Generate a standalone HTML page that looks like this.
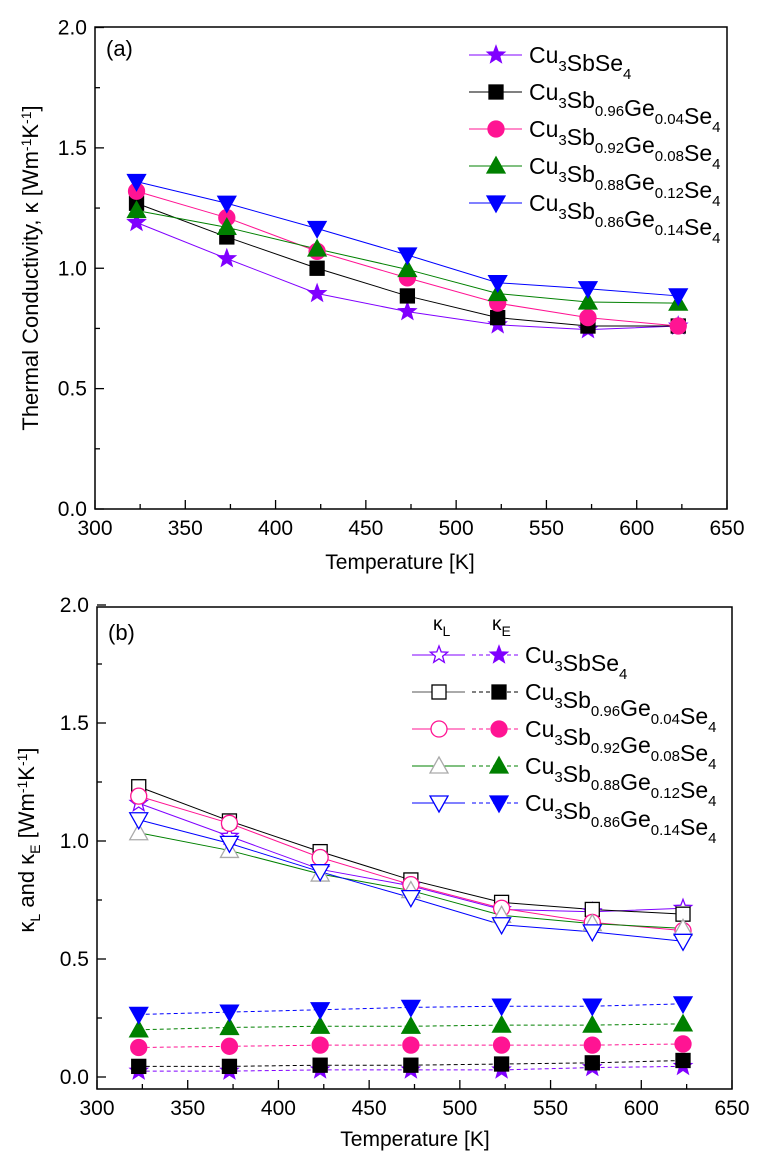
<!DOCTYPE html>
<html><head><meta charset="utf-8"><style>body{margin:0;background:#fff}svg{display:block}text{font-family:"Liberation Sans",sans-serif}</style></head>
<body>
<svg id="s" width="759" height="1163" xmlns="http://www.w3.org/2000/svg"></svg>
<script>
const S=document.getElementById('s');let h='';
const C=['#8000ff','#000','#ff1493','#008000','#0000ff'];
const T=[323,373,423,473,523,573,623];
function star(x,y,r,f,c){let p='';for(let i=0;i<10;i++){const a=-Math.PI/2+i*Math.PI/5,rr=i%2?r*0.42:r;p+=(i?'L':'M')+(x+rr*Math.cos(a)).toFixed(1)+' '+(y+rr*Math.sin(a)).toFixed(1);}return `<path d="${p}Z" fill="${f}" stroke="${c}" stroke-width="1.3"/>`;}
function mk(t,x,y,open,c){const f=open?'#fff':c,st=c;const r=8;
 if(t==0)return star(x,y,9,f,st);
 if(t==1)return `<rect x="${x-7}" y="${y-7}" width="14" height="14" fill="${f}" stroke="${st}" stroke-width="1.3"/>`;
 if(t==2)return `<circle cx="${x}" cy="${y}" r="${r}" fill="${f}" stroke="${st}" stroke-width="1.3"/>`;
 if(t==3)return `<path d="M${x} ${y-9}L${x+9} ${y+7}L${x-9} ${y+7}Z" fill="${f}" stroke="${open?'#aaa':st}" stroke-width="1.3"/>`;
 return `<path d="M${x} ${y+9}L${x+9} ${y-7}L${x-9} ${y-7}Z" fill="${f}" stroke="${st}" stroke-width="1.3"/>`;}
function axes(L,R,Top,B,y0,sc){
 h+=`<rect x="${L}" y="${Top}" width="${R-L}" height="${B-Top}" fill="none" stroke="#000" stroke-width="1.5"/>`;
 const xs=(R-L)/350;
 for(let t=300;t<=650;t+=25){const x=L+(t-300)*xs;const len=t%50?5:9;h+=`<line x1="${x}" y1="${B}" x2="${x}" y2="${B-len}" stroke="#000" stroke-width="1.3"/>`;if(t%50==0)h+=`<text x="${x}" y="${B+26}" font-size="21" text-anchor="middle">${t}</text>`;}
 for(let v=0;v<=2.001;v+=0.25){const y=y0-v*sc;const len=(Math.round(v*4)%2)?5:9;h+=`<line x1="${L}" y1="${y}" x2="${L+len}" y2="${y}" stroke="#000" stroke-width="1.3"/>`;if(!(Math.round(v*4)%2))h+=`<text x="${L-8}" y="${y+7}" font-size="21" text-anchor="end">${v.toFixed(1)}</text>`;}
 return t=>L+(t-300)*xs;}
let X=axes(95,727,27,509,509,240.75);let Y=v=>509-v*240.75;
const A=[[1.19,1.04,0.895,0.82,0.765,0.745,0.76],[1.27,1.13,1.0,0.885,0.795,0.76,0.76],[1.32,1.21,1.07,0.96,0.855,0.795,0.76],[1.24,1.17,1.08,0.995,0.895,0.86,0.855],[1.36,1.27,1.165,1.055,0.94,0.915,0.885]];
A.forEach((d,i)=>{h+=`<polyline fill="none" stroke="${C[i]}" stroke-width="1" points="${d.map((v,j)=>X(T[j])+','+Y(v)).join(' ')}"/>`;});
A.forEach((d,i)=>d.forEach((v,j)=>h+=mk(i,X(T[j]),Y(v),false,C[i])));
h+=`<text x="106" y="56" font-size="22">(a)</text>`;
h+=`<text x="400" y="569" font-size="21" text-anchor="middle">Temperature [K]</text>`;
h+=`<text transform="translate(38,268) rotate(-90)" font-size="22" text-anchor="middle">Thermal Conductivity, κ [Wm<tspan dy="-7" font-size="14">-1</tspan><tspan dy="7">K</tspan><tspan dy="-7" font-size="14">-1</tspan><tspan dy="7">]</tspan></text>`;
const names=[['Cu','3','SbSe','4'],['Cu','3','Sb','0.96','Ge','0.04','Se','4'],['Cu','3','Sb','0.92','Ge','0.08','Se','4'],['Cu','3','Sb','0.88','Ge','0.12','Se','4'],['Cu','3','Sb','0.86','Ge','0.14','Se','4']];
function nm(x,y,n){let s=`<text x="${x}" y="${y+8}" font-size="23">`;n.forEach((p,k)=>{s+=k%2?`<tspan dy="8" font-size="15">${p}</tspan><tspan dy="-8"></tspan>`:`<tspan>${p}</tspan>`;});return s+'</text>';}
for(let i=0;i<5;i++){const y=55+i*37;h+=`<line x1="469" y1="${y}" x2="522" y2="${y}" stroke="${C[i]}" stroke-width="1"/>`+mk(i,496,y,false,C[i])+nm(529,y,names[i]);}
X=axes(97,732,607,1089,1077,236);Y=v=>1077-v*236;
const KL=[[1.16,1.02,0.88,0.81,0.71,0.70,0.715],[1.23,1.085,0.955,0.835,0.74,0.71,0.69],[1.19,1.075,0.93,0.815,0.715,0.655,0.62],[1.035,0.96,0.86,0.79,0.685,0.65,0.63],[1.09,0.99,0.87,0.76,0.645,0.615,0.575]];
const KE=[[0.025,0.025,0.03,0.03,0.03,0.04,0.045],[0.045,0.045,0.05,0.05,0.055,0.06,0.07],[0.125,0.13,0.135,0.135,0.135,0.135,0.14],[0.2,0.21,0.215,0.215,0.22,0.22,0.225],[0.265,0.275,0.285,0.295,0.3,0.3,0.31]];
KL.forEach((d,i)=>{h+=`<polyline fill="none" stroke="${C[i]}" stroke-width="1" points="${d.map((v,j)=>X(T[j])+','+Y(v)).join(' ')}"/>`;});
KE.forEach((d,i)=>{h+=`<polyline fill="none" stroke="${C[i]}" stroke-width="1" stroke-dasharray="4,3" points="${d.map((v,j)=>X(T[j])+','+Y(v)).join(' ')}"/>`;});
KL.forEach((d,i)=>d.forEach((v,j)=>h+=mk(i,X(T[j]),Y(v),true,C[i])));
KE.forEach((d,i)=>d.forEach((v,j)=>h+=mk(i,X(T[j]),Y(v),false,C[i])));
h+=`<text x="108" y="640" font-size="22">(b)</text>`;
h+=`<text x="415" y="1146" font-size="21" text-anchor="middle">Temperature [K]</text>`;
h+=`<text transform="translate(34,840) rotate(-90)" font-size="22" text-anchor="middle">κ<tspan dy="6" font-size="14">L</tspan><tspan dy="-6"> and κ</tspan><tspan dy="6" font-size="14">E</tspan><tspan dy="-6"> [Wm</tspan><tspan dy="-7" font-size="14">-1</tspan><tspan dy="7">K</tspan><tspan dy="-7" font-size="14">-1</tspan><tspan dy="7">]</tspan></text>`;
h+=`<text x="433" y="630" font-size="19">κ<tspan dy="6" font-size="14">L</tspan></text><text x="492" y="630" font-size="19">κ<tspan dy="6" font-size="14">E</tspan></text>`;
for(let i=0;i<5;i++){const y=655+i*37;h+=`<line x1="412" y1="${y}" x2="465" y2="${y}" stroke="${i==1?'#555':C[i]}" stroke-width="1"/><line x1="472" y1="${y}" x2="521" y2="${y}" stroke="${C[i]}" stroke-width="1" stroke-dasharray="4,3"/>`+mk(i,439,y,true,C[i])+mk(i,499,y,false,C[i])+nm(525,y,names[i]);}
S.innerHTML=h;
</script>
</body></html>
